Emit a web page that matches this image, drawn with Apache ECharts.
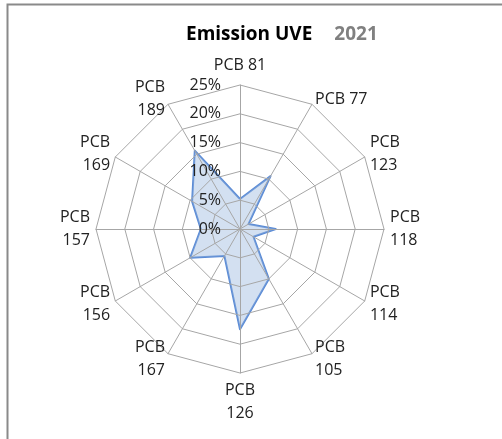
<!DOCTYPE html>
<html>
<head>
<meta charset="utf-8">
<script src="https://cdn.jsdelivr.net/npm/echarts@6/dist/echarts.min.js"></script>
<style>
  html, body { margin: 0; padding: 0; background: #fff; }
  #chart { width: 502px; height: 439px; }
</style>
</head>
<body>
<div id="chart"></div>
<script>
// congeners, clockwise from the top
var congeners = ["PCB 81", "PCB 77", "PCB\n123", "PCB\n118", "PCB\n114", "PCB\n105",
  "PCB\n126", "PCB\n167", "PCB\n156", "PCB\n157", "PCB\n169", "PCB\n189"];
// share of emission, %
var shares = [5.2, 10.6, 1.7, 6.2, 2.7, 10.0, 17.4, 5.4, 10.0, 6.8, 9.6, 15.7];
var axisMax = 25;
var title = "Emission UVE";
var year = "2021";

var myChart = echarts.init(document.getElementById("chart"));

// echarts lays radar axes out counter-clockwise, so keep the first one and flip the rest
function clockwise(arr) {
  return [arr[0]].concat(arr.slice(1).reverse());
}

var indicators = clockwise(congeners).map(function (name, i) {
  var ind = { name: name, min: 0, max: axisMax };
  if (i === 0) {
    // only the vertical axis carries the % labels
    ind.axisLabel = { show: true };
  }
  return ind;
});

myChart.setOption({
  animation: false,
  title: {
    text: "{a|" + title + "}{b|" + year + "}",
    left: 181,
    top: 20,
    textStyle: {
      rich: {
        a: { fontFamily: "Open Sans", fontWeight: "bold", fontSize: 19, color: "#000" },
        b: { fontFamily: "Open Sans", fontWeight: "bold", fontSize: 19, color: "#808080", padding: [0, 0, 0, 22] }
      }
    }
  },
  graphic: [{
    type: "rect",
    shape: { x: 7.5, y: 4.5, width: 600, height: 600 },
    style: { fill: "none", stroke: "#8a8a8a", lineWidth: 2 },
    silent: true
  }],
  radar: {
    z: 3,
    center: [240, 229],
    radius: 144,
    startAngle: 90,
    splitNumber: 5,
    shape: "polygon",
    indicator: indicators,
    axisName: {
      color: "#222",
      fontFamily: "Open Sans",
      fontSize: 16,
      lineHeight: 23
    },
    nameGap: 6,
    axisLabel: {
      show: false,
      color: "#222",
      fontFamily: "Open Sans",
      fontSize: 16,
      margin: 19,
      formatter: function (val) {
        return val + "%";
      }
    },
    axisLine: { lineStyle: { color: "#a6a6a6", width: 1 } },
    splitLine: { lineStyle: { color: "#a6a6a6", width: 1 } },
    splitArea: { show: false }
  },
  series: [{
    type: "radar",
    symbol: "none",
    data: [{
      value: clockwise(shares),
      name: year,
      lineStyle: { color: "#5b8bd5", width: 2 },
      areaStyle: { color: "rgba(150, 182, 222, 0.6)" }
    }]
  }]
});
</script>
</body>
</html>
